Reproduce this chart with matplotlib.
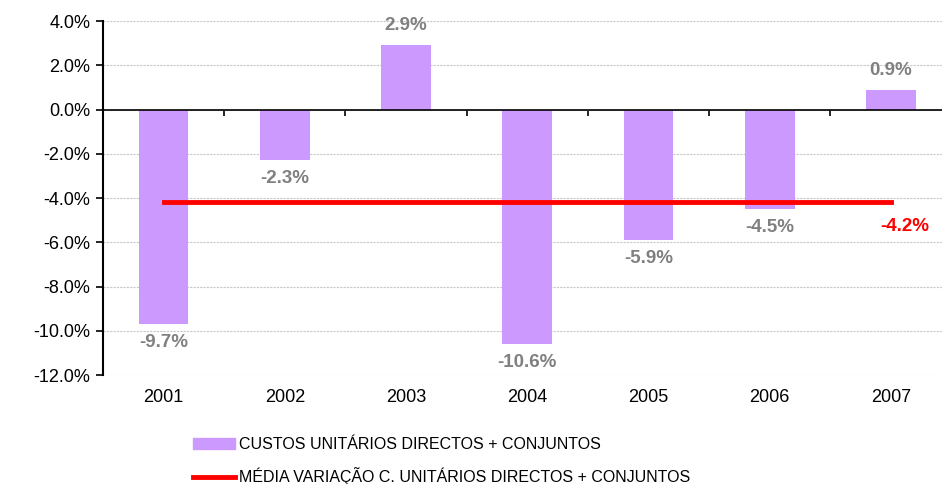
import matplotlib.pyplot as plt
from matplotlib.patches import Patch
from matplotlib.lines import Line2D

anos = ["2001", "2002", "2003", "2004", "2005", "2006", "2007"]
variacao = [-9.7, -2.3, 2.9, -10.6, -5.9, -4.5, 0.9]
media = -4.2

plt.rcParams['font.family'] = ['Liberation Sans', 'DejaVu Sans']

fig = plt.figure(figsize=(9.42, 4.84), dpi=100)
ax = fig.add_axes([0.1093, 0.2252, 0.9008, 0.7314])

x = list(range(len(anos)))
ax.bar(x, variacao, width=0.41, color="#CC99FF", zorder=2)
ax.plot([x[0], x[-1]], [media, media], color="#FF0000", lw=3.5, zorder=3)

for xi, v in zip(x, variacao):
    off = 14 if v > 0 else -13
    ax.annotate(f"{v:.1f}%", (xi, v), xytext=(0, off), textcoords="offset points",
                ha="center", va="center", fontsize=13.5, fontweight="bold", color="#808080")
ax.annotate(f"{media:.1f}%", (x[-1], media), xytext=(10, -17), textcoords="offset points",
            ha="center", va="center", fontsize=13.5, fontweight="bold", color="#FF0000")

ax.set_xlim(-0.5, len(anos) - 0.5)
ax.set_ylim(-12, 4)
ax.set_yticks(range(-12, 5, 2))
ax.set_yticklabels([f"{t:.1f}%" for t in range(-12, 5, 2)], fontsize=13)
ax.yaxis.grid(True, color="#C8C8C8", linestyle=(0, (2, 1)), lw=0.8, zorder=0)

for s in ["top", "right"]:
    ax.spines[s].set_visible(False)
ax.spines["left"].set_linewidth(1.5)
ax.spines["bottom"].set_position(("data", 0))
ax.spines["bottom"].set_linewidth(1.2)
ax.spines["bottom"].set_zorder(4)
ax.set_xticks([i + 0.5 for i in x])
ax.set_xticklabels([])
ax.tick_params(axis="x", direction="out", length=4, width=1.2)
ax.tick_params(axis="y", direction="out", length=5, width=1.2, pad=4)

for xi, ano in zip(x, anos):
    ax.annotate(ano, (xi, 0), xycoords=("data", "axes fraction"), xytext=(0, -16),
                textcoords="offset points", ha="center", va="center", fontsize=13)

handles = [Patch(color="#CC99FF"), Line2D([0], [0], color="#FF0000", lw=3.5)]
labels = ["CUSTOS UNITÁRIOS DIRECTOS + CONJUNTOS",
          "MÉDIA VARIAÇÃO C. UNITÁRIOS DIRECTOS + CONJUNTOS"]
fig.legend(handles, labels, loc="upper left", bbox_to_anchor=(0.205, 0.097),
           frameon=False, fontsize=11.5, handlelength=2.6, handleheight=0.7,
           labelspacing=0.95, handletextpad=0.3, borderpad=0, borderaxespad=0)

fig.savefig("out.png", dpi=100)
